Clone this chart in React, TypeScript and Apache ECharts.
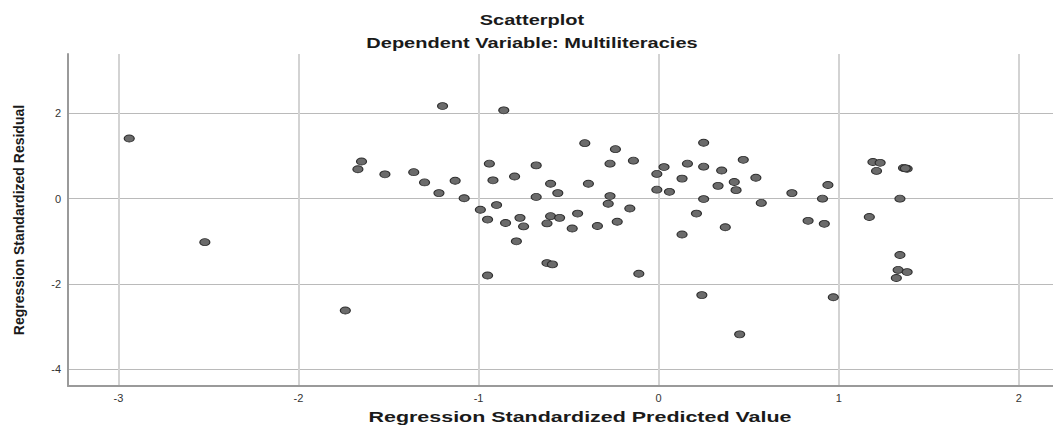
import React, { useEffect, useRef } from "react";
import * as echarts from "echarts";

const predictedValues = [
  -2.94, -2.52, -1.74, -1.65, -1.67, -1.52, -1.36, -1.3, -1.22, -1.2,
  -1.13, -1.08, -0.99, -0.95, -0.95, -0.94, -0.92, -0.9, -0.86, -0.85,
  -0.8, -0.79, -0.77, -0.75, -0.68, -0.68, -0.62, -0.62, -0.59, -0.6,
  -0.6, -0.56, -0.55, -0.48, -0.45, -0.41, -0.39, -0.34, -0.28, -0.27,
  -0.27, -0.24, -0.23, -0.16, -0.14, -0.11, -0.01, -0.01, 0.03, 0.06,
  0.13, 0.13, 0.16, 0.21, 0.24, 0.25, 0.25, 0.25, 0.33, 0.35,
  0.37, 0.42, 0.43, 0.45, 0.47, 0.54, 0.57, 0.74, 0.83, 0.91,
  0.92, 0.94, 0.97, 1.17, 1.19, 1.23, 1.21, 1.34, 1.34, 1.36,
  1.38, 1.37, 1.33, 1.38, 1.32,
];

const residualValues = [
  1.41, -1.02, -2.62, 0.87, 0.69, 0.57, 0.62, 0.38, 0.13, 2.17,
  0.42, 0.01, -0.26, -0.49, -1.8, 0.82, 0.43, -0.15, 2.07, -0.57,
  0.52, -1.0, -0.45, -0.65, 0.78, 0.04, -0.58, -1.51, -1.54, 0.35,
  -0.41, 0.13, -0.45, -0.7, -0.35, 1.3, 0.35, -0.64, -0.12, 0.06,
  0.82, 1.16, -0.54, -0.23, 0.89, -1.76, 0.58, 0.21, 0.74, 0.16,
  0.47, -0.84, 0.82, -0.35, -2.26, 1.31, 0.75, -0.01, 0.3, 0.66,
  -0.67, 0.39, 0.2, -3.18, 0.91, 0.49, -0.1, 0.13, -0.52, 0.0,
  -0.59, 0.32, -2.31, -0.43, 0.86, 0.84, 0.65, 0.0, -1.32, 0.72,
  0.7, 0.71, -1.67, -1.72, -1.86,
];

const chartTitle = "Scatterplot";
const chartSubtitle = "Dependent Variable: Multiliteracies";
const xAxisTitle = "Regression Standardized Predicted Value";
const yAxisTitle = "Regression Standardized Residual";

const ellipse = "path://M0,5a5,5 0 1,0 10,0a5,5 0 1,0 -10,0z";

export default function App() {
  const ref = useRef<HTMLDivElement>(null);

  useEffect(() => {
    if (!ref.current) return;
    const chart = echarts.init(ref.current, undefined, { renderer: "svg" });
    const font = "Liberation Sans, Arial, sans-serif";
    chart.setOption({
      animation: false,
      backgroundColor: "#ffffff",
      grid: { left: 68, right: 0, top: 54, bottom: 43 },
      xAxis: {
        type: "value",
        min: -3.28,
        max: 2.19,
        splitNumber: 5,
        axisLine: { show: true, onZero: false, lineStyle: { color: "#9a9a9a", width: 2 } },
        axisTick: { show: false },
        axisLabel: {
          color: "#333",
          fontSize: 11,
          fontFamily: font,
          margin: 6,
          showMinLabel: false,
          showMaxLabel: false,
        },
        splitLine: {
          show: true,
          showMinLine: false,
          showMaxLine: false,
          lineStyle: { color: "#d3d3d3", width: 2 },
        },
      },
      yAxis: {
        type: "value",
        min: -4.39,
        max: 3.39,
        splitNumber: 4,
        name: yAxisTitle,
        nameLocation: "middle",
        nameGap: 42,
        nameTextStyle: { color: "#1a1a1a", fontSize: 14, fontWeight: "bold", fontFamily: font },
        axisLine: { show: true, onZero: false, lineStyle: { color: "#9a9a9a", width: 2 } },
        axisTick: { show: false },
        axisLabel: {
          color: "#333",
          fontSize: 11,
          fontFamily: font,
          margin: 7,
          showMinLabel: false,
          showMaxLabel: false,
        },
        splitLine: {
          show: true,
          showMinLine: false,
          showMaxLine: false,
          lineStyle: { color: "#bababa", width: 1 },
        },
      },
      graphic: [
        {
          type: "text",
          x: 532,
          y: 20,
          scaleX: 1.43,
          style: {
            text: chartTitle,
            fontSize: 14,
            fontWeight: "bold",
            fontFamily: font,
            fill: "#1a1a1a",
            align: "center",
            verticalAlign: "middle",
          },
        },
        {
          type: "text",
          x: 532,
          y: 43,
          scaleX: 1.43,
          style: {
            text: chartSubtitle,
            fontSize: 14,
            fontWeight: "bold",
            fontFamily: font,
            fill: "#1a1a1a",
            align: "center",
            verticalAlign: "middle",
          },
        },
        {
          type: "text",
          x: 580,
          y: 417,
          scaleX: 1.43,
          style: {
            text: xAxisTitle,
            fontSize: 15,
            fontWeight: "bold",
            fontFamily: font,
            fill: "#1a1a1a",
            align: "center",
            verticalAlign: "middle",
          },
        },
      ],
      series: [
        {
          type: "scatter",
          data: predictedValues.map((x, i) => [x, residualValues[i]]),
          symbol: ellipse,
          symbolSize: [10, 7],
          itemStyle: { color: "#6b6b6b", borderColor: "#2e2e2e", borderWidth: 1, opacity: 1 },
          emphasis: { disabled: true },
        },
      ],
    });
    return () => chart.dispose();
  }, []);

  return (
    <div
      ref={ref}
      style={{ position: "fixed", left: 0, top: 0, width: 1053, height: 429, background: "#fff" }}
    />
  );
}
